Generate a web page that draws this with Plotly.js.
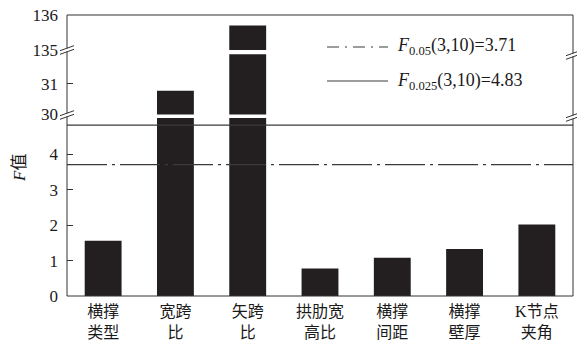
<!DOCTYPE html>
<html>
<head>
<meta charset="utf-8">
<script src="https://cdn.plot.ly/plotly-3.0.1.min.js"></script>
<style>html,body{margin:0;padding:0;background:#fff;}#chart{width:577px;height:346px;}</style>
</head>
<body>
<div id="chart"></div>
<script>
// ---- data ----
const categories = ['横撑<br>类型', '宽跨<br>比', '矢跨<br>比', '拱肋宽<br>高比', '横撑<br>间距', '横撑<br>壁厚', 'K节点<br>夹角'];
const fValues = [1.56, 30.78, 135.7, 0.78, 1.08, 1.33, 2.02];
const critical005 = [3.71, 3.71];
const critical0025 = [4.83, 4.83];
const lineSpan = [-0.5, 6.5];
const lowerTicks = [0, 1, 2, 3, 4];
const middleTicks = [30, 31];
const upperTicks = [135, 136];
const legendLabels = ['<i>F</i><sub>0.05</sub>(3,10)=3.71', '<i>F</i><sub>0.025</sub>(3,10)=4.83'];

// ---- layout helpers (pixel -> paper) ----
const W = 577, H = 346, mL = 67, mR = 4, mT = 15, mB = 50;
const PW = W - mL - mR, PH = H - mT - mB;
const px = x => (x - mL) / PW;
const py = y => (H - mB - y) / PH;

const xIdx = categories.map((_, i) => i);
const barColor = '#231f20';
const serif = 'Liberation Serif, Noto Sans CJK SC, serif';

const barTrace = ax => ({
  type: 'bar', x: xIdx, y: fValues, yaxis: ax,
  marker: {color: barColor, line: {width: 0}},
  showlegend: false, hoverinfo: 'skip'
});

const traces = [
  barTrace('y'), barTrace('y2'), barTrace('y3'),
  {type: 'scatter', mode: 'lines', x: lineSpan, y: critical005, yaxis: 'y',
   line: {color: '#3a3a3a', width: 1.2, dash: '40px,5px,3px,5px'}, showlegend: false, hoverinfo: 'skip'},
  {type: 'scatter', mode: 'lines', x: lineSpan, y: critical0025, yaxis: 'y',
   line: {color: '#3a3a3a', width: 1.2}, showlegend: false, hoverinfo: 'skip'}
];

const yCommon = {
  ticks: 'inside', ticklen: 6, tickcolor: '#333', tickwidth: 1,
  showline: false, zeroline: false, showgrid: false,
  tickfont: {family: serif, size: 17, color: '#1a1a1a'},
  ticklabelstandoff: 8, anchor: 'x', fixedrange: true
};

// break marks
const shapes = [
  {type: 'rect', xref: 'paper', yref: 'paper', x0: 0, x1: 1, y0: 0, y1: 1,
   line: {color: '#333', width: 1}, fillcolor: 'rgba(0,0,0,0)'}
];
function breakMark(xp, yp) {
  shapes.push({type: 'rect', xref: 'paper', yref: 'paper',
    x0: px(xp - 1.5), x1: px(xp + 1.5), y0: py(yp + 1.5), y1: py(yp - 1.5),
    line: {width: 0}, fillcolor: '#fff'});
  [-1.8, 1.8].forEach(d => shapes.push({type: 'line', xref: 'paper', yref: 'paper',
    x0: px(xp - 7), y0: py(yp + d + 2.5), x1: px(xp + 7), y1: py(yp + d - 2.5),
    line: {color: '#333', width: 1}}));
}
breakMark(67, 50); breakMark(67, 115);
breakMark(573, 55); breakMark(573, 117);

// legend samples
shapes.push({type: 'line', xref: 'paper', yref: 'paper', x0: px(327), x1: px(388), y0: py(47), y1: py(47),
  line: {color: '#3a3a3a', width: 1.2, dash: '12px,6px,2px,6px'}});
shapes.push({type: 'line', xref: 'paper', yref: 'paper', x0: px(327), x1: px(388), y0: py(81), y1: py(81),
  line: {color: '#3a3a3a', width: 1.2}});

const annotations = [
  {xref: 'paper', yref: 'paper', x: px(395), y: py(47), xanchor: 'left', yanchor: 'middle',
   text: legendLabels[0], showarrow: false, font: {family: serif, size: 18, color: '#1a1a1a'}},
  {xref: 'paper', yref: 'paper', x: px(395), y: py(81), xanchor: 'left', yanchor: 'middle',
   text: legendLabels[1], showarrow: false, font: {family: serif, size: 18, color: '#1a1a1a'}},
  {xref: 'paper', yref: 'paper', x: px(19), y: py(168), xanchor: 'center', yanchor: 'middle',
   text: '<i>F</i>值', textangle: -90, showarrow: false, font: {family: serif, size: 17, color: '#1a1a1a'}}
];

const layout = {
  width: W, height: H,
  margin: {l: mL, r: mR, t: mT, b: mB, pad: 0},
  paper_bgcolor: '#fff', plot_bgcolor: '#fff',
  bargap: 0.49,
  showlegend: false,
  xaxis: {range: [-0.5, 6.5], tickvals: xIdx, ticktext: categories, ticks: '',
          showline: false, zeroline: false, showgrid: false, fixedrange: true,
          ticklabelstandoff: 4,
          tickfont: {family: serif, size: 16, color: '#1a1a1a'}},
  yaxis: Object.assign({}, yCommon, {domain: [0, py(118)], range: [0, 5.03], tickvals: lowerTicks}),
  yaxis2: Object.assign({}, yCommon, {domain: [py(114.5), py(54.3)], range: [30, 31.97], tickvals: middleTicks}),
  yaxis3: Object.assign({}, yCommon, {domain: [py(50), 1], range: [135, 136], tickvals: upperTicks}),
  shapes: shapes,
  annotations: annotations
};

Plotly.newPlot('chart', traces, layout, {staticPlot: true, displayModeBar: false});
</script>
</body>
</html>
